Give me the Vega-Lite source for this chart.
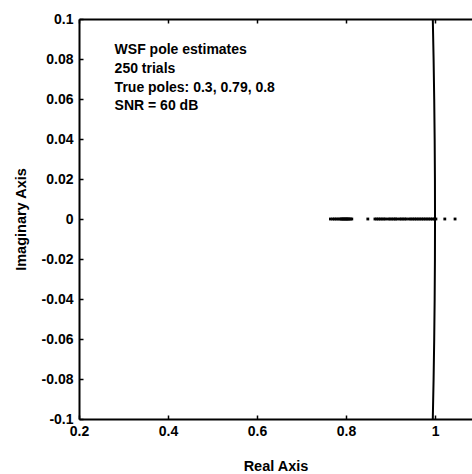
{
  "$schema": "https://vega.github.io/schema/vega-lite/v6.json",
  "autosize": {"type": "none"},
  "padding": {"left": 79, "top": 19, "right": 0, "bottom": 55},
  "width": 393,
  "height": 400,
  "background": "white",
  "config": {
    "view": {"stroke": null},
    "font": "Liberation Sans",
    "axis": {
      "labelFont": "Liberation Sans",
      "labelFontWeight": "bold",
      "labelFontSize": 14,
      "labelColor": "black",
      "labelOverlap": false,
      "titleFont": "Liberation Sans",
      "titleFontWeight": "bold",
      "titleFontSize": 14.5,
      "titleColor": "black",
      "domainColor": "black",
      "domainWidth": 2,
      "tickColor": "black",
      "tickWidth": 1.5,
      "grid": false
    }
  },
  "datasets": {
    "poles": [
      {"re": 0.765, "im": 0}, {"re": 0.77, "im": 0}, {"re": 0.774, "im": 0}, {"re": 0.778, "im": 0},
      {"re": 0.782, "im": 0}, {"re": 0.786, "im": 0}, {"re": 0.789, "im": 0}, {"re": 0.791, "im": 0},
      {"re": 0.793, "im": 0}, {"re": 0.795, "im": 0}, {"re": 0.797, "im": 0}, {"re": 0.799, "im": 0},
      {"re": 0.801, "im": 0}, {"re": 0.803, "im": 0}, {"re": 0.805, "im": 0}, {"re": 0.807, "im": 0},
      {"re": 0.81, "im": 0}, {"re": 0.813, "im": 0},
      {"re": 0.849, "im": 0},
      {"re": 0.865, "im": 0}, {"re": 0.869, "im": 0}, {"re": 0.873, "im": 0}, {"re": 0.877, "im": 0},
      {"re": 0.881, "im": 0}, {"re": 0.885, "im": 0}, {"re": 0.889, "im": 0},
      {"re": 0.895, "im": 0}, {"re": 0.899, "im": 0}, {"re": 0.903, "im": 0}, {"re": 0.907, "im": 0},
      {"re": 0.911, "im": 0}, {"re": 0.914, "im": 0},
      {"re": 0.92, "im": 0}, {"re": 0.924, "im": 0}, {"re": 0.928, "im": 0}, {"re": 0.932, "im": 0},
      {"re": 0.936, "im": 0},
      {"re": 0.942, "im": 0}, {"re": 0.946, "im": 0}, {"re": 0.95, "im": 0}, {"re": 0.954, "im": 0},
      {"re": 0.958, "im": 0}, {"re": 0.962, "im": 0}, {"re": 0.966, "im": 0},
      {"re": 0.97, "im": 0}, {"re": 0.974, "im": 0}, {"re": 0.978, "im": 0}, {"re": 0.982, "im": 0},
      {"re": 0.986, "im": 0}, {"re": 0.99, "im": 0}, {"re": 0.994, "im": 0}, {"re": 0.998, "im": 0},
      {"re": 1.002, "im": 0},
      {"re": 1.022, "im": 0}, {"re": 1.045, "im": 0}
    ],
    "circle": [
      {"re": 0.995, "im": -0.1}, {"re": 0.9968, "im": -0.08}, {"re": 0.9982, "im": -0.06},
      {"re": 0.9992, "im": -0.04}, {"re": 0.9998, "im": -0.02}, {"re": 1.0, "im": 0},
      {"re": 0.9998, "im": 0.02}, {"re": 0.9992, "im": 0.04}, {"re": 0.9982, "im": 0.06},
      {"re": 0.9968, "im": 0.08}, {"re": 0.995, "im": 0.1}
    ]
  },
  "layer": [
    {
      "data": {"name": "circle"},
      "mark": {"type": "line", "color": "black", "strokeWidth": 2, "clip": true},
      "encoding": {
        "x": {
          "field": "re", "type": "quantitative",
          "scale": {"domain": [0.2, 1.0831], "nice": false, "zero": false},
          "axis": {
            "title": "Real Axis", "values": [0.2, 0.4, 0.6, 0.8, 1.0],
            "labelExpr": "datum.value == 1 ? '1' : format(datum.value, '.1f')",
            "tickSize": -4, "labelPadding": 9, "titlePadding": 21, "labelFlush": false, "labelOverlap": false
          }
        },
        "y": {
          "field": "im", "type": "quantitative",
          "scale": {"domain": [-0.1, 0.1], "nice": false, "zero": false},
          "axis": {
            "title": "Imaginary Axis",
            "values": [-0.1, -0.08, -0.06, -0.04, -0.02, 0, 0.02, 0.04, 0.06, 0.08, 0.1],
            "labelExpr": "replace(format(datum.value, '~g'), '\u2212', '-')",
            "tickSize": -4, "labelPadding": 10, "titlePadding": 13, "labelFlush": false,
            "labelOverlap": false, "labelSeparation": -50, "labelBound": false
          }
        },
        "order": {"field": "im", "type": "quantitative"}
      }
    },
    {
      "data": {"name": "poles"},
      "mark": {"type": "square", "color": "black", "filled": true, "size": 8, "opacity": 1},
      "encoding": {
        "x": {"field": "re", "type": "quantitative", "axis": null},
        "y": {"field": "im", "type": "quantitative", "axis": null}
      }
    },
    {
      "data": {"values": [{}]},
      "mark": {
        "type": "text",
        "text": ["WSF pole estimates", "250 trials", "True poles: 0.3, 0.79, 0.8", "SNR = 60 dB"],
        "align": "left", "baseline": "middle", "lineHeight": 18.8,
        "font": "Liberation Sans", "fontWeight": "bold", "fontSize": 14, "color": "black"
      },
      "encoding": {
        "x": {"datum": 0.28, "type": "quantitative", "axis": null},
        "y": {"datum": 0.0845, "type": "quantitative", "axis": null}
      }
    },
    {
      "data": {"values": [{}]},
      "mark": {"type": "rule", "color": "transparent"},
      "encoding": {
        "x": {"datum": 0.2, "type": "quantitative", "axis": {
          "orient": "top", "values": [0.2, 0.4, 0.6, 0.8, 1.0], "labels": false, "title": null,
          "tickSize": -4, "domainWidth": 2
        }}
      }
    }
  ],
  "resolve": {"axis": {"x": "independent", "y": "independent"}}
}
